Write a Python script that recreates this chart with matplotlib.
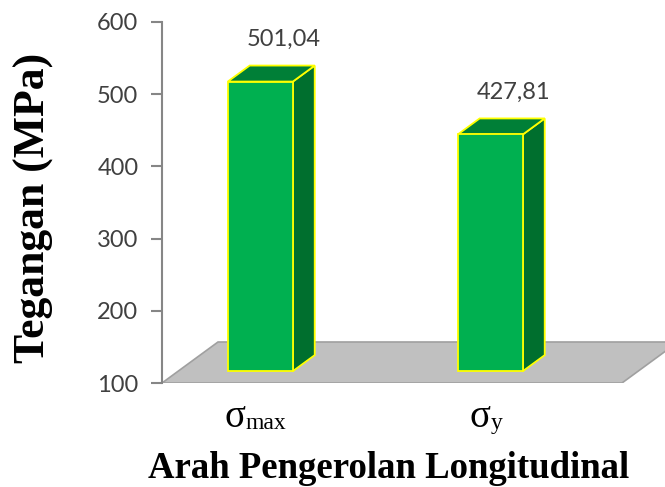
import matplotlib
matplotlib.use("Agg")
import matplotlib.pyplot as plt
from matplotlib.patches import Polygon
from matplotlib.transforms import offset_copy

# data
simbol = ['σ', 'σ']
indeks = ['max', 'y']
tegangan = [501.04, 427.81]
label_nilai = ['501,04', '427,81']

# warna
hijau_depan = '#00B050'
hijau_atas = '#007F37'
hijau_samping = '#006F2E'
kuning = '#FFFF00'
abu_lantai = '#C0C0C0'
abu_garis = '#A0A0A0'

ymin, ymax = 100, 600
DX, DY = 0.2435, 56.8      # pergeseran kedalaman (satuan sumbu)
d_depan, d_belakang = 0.29, 0.68
lebar = 0.283
geser = -0.143

fig = plt.figure(figsize=(6.65, 4.87), dpi=100)
ax = fig.add_axes([162/665, 104/487, 503/665, 361/487])
ax.set_xlim(-0.5, 1.687)
ax.set_ylim(ymin, ymax)

# lantai 3D
lantai = Polygon([(-0.5, ymin), (1.5, ymin), (1.5 + DX, ymin + DY), (-0.5 + DX, ymin + DY)],
                 closed=True, facecolor=abu_lantai, edgecolor=abu_garis, lw=1.2, zorder=1)
ax.add_patch(lantai)

for i, (v, lab) in enumerate(zip(tegangan, label_nilai)):
    x0 = i + geser + d_depan * DX - lebar / 2
    x1 = x0 + lebar
    yb = ymin + d_depan * DY
    yt = v + d_depan * DY
    ddx = (d_belakang - d_depan) * DX
    ddy = (d_belakang - d_depan) * DY
    depan = Polygon([(x0, yb), (x1, yb), (x1, yt), (x0, yt)], closed=True,
                    facecolor=hijau_depan, edgecolor=kuning, lw=1.3, zorder=3)
    atas = Polygon([(x0, yt), (x1, yt), (x1 + ddx, yt + ddy), (x0 + ddx, yt + ddy)], closed=True,
                   facecolor=hijau_atas, edgecolor=kuning, lw=1.3, zorder=3)
    samping = Polygon([(x1, yb), (x1 + ddx, yb + ddy), (x1 + ddx, yt + ddy), (x1, yt)], closed=True,
                      facecolor=hijau_samping, edgecolor=kuning, lw=1.3, zorder=3)
    for p in (samping, atas, depan):
        ax.add_patch(p)
    ax.annotate(lab, xy=((x0 + x1 + ddx) / 2, yt + ddy), xytext=(9, 19),
                textcoords='offset points', ha='center', va='center',
                fontsize=17, family='Lato', color='#404040')

# label kategori: sigma besar + indeks kecil
ax.set_xticks([])
fig.canvas.draw()
r = fig.canvas.get_renderer()
pos = [i + geser + d_depan * DX - 0.02 for i in range(len(simbol))]
for p, s, sub in zip(pos, simbol, indeks):
    t1 = ax.text(p, ymin, s, transform=ax.transData, fontsize=28,
                 family='Liberation Serif', ha='left', va='baseline')
    t2 = ax.text(p, ymin, sub, fontsize=17, family='Liberation Serif',
                 ha='left', va='baseline')
    w1 = t1.get_window_extent(r).width
    w2 = t2.get_window_extent(r).width
    tot = w1 + w2
    t1.set_transform(offset_copy(ax.transData, fig=fig, x=-tot / 2, y=-44, units='dots'))
    t2.set_transform(offset_copy(ax.transData, fig=fig, x=-tot / 2 + w1, y=-46, units='dots'))

ax.set_yticks(range(100, 601, 100))
ax.tick_params(axis='y', length=8, width=1.5, color='#868686', pad=9,
               labelsize=17, labelcolor='#404040')
for t in ax.get_yticklabels():
    t.set_family('Lato')

for s in ('top', 'right', 'bottom'):
    ax.spines[s].set_visible(False)
ax.spines['left'].set_color('#868686')
ax.spines['left'].set_linewidth(1.5)
ax.spines['left'].set_zorder(5)

fig.text(34/665, 1 - 208/487, 'Tegangan (MPa)', rotation=90, ha='center', va='center',
         fontsize=31.5, fontweight='bold', family='Liberation Serif')
fig.text(389/665, 1 - 468/487, 'Arah Pengerolan Longitudinal', ha='center', va='center',
         fontsize=26.5, fontweight='bold', family='Liberation Serif')

fig.savefig('out.png', dpi=100)
